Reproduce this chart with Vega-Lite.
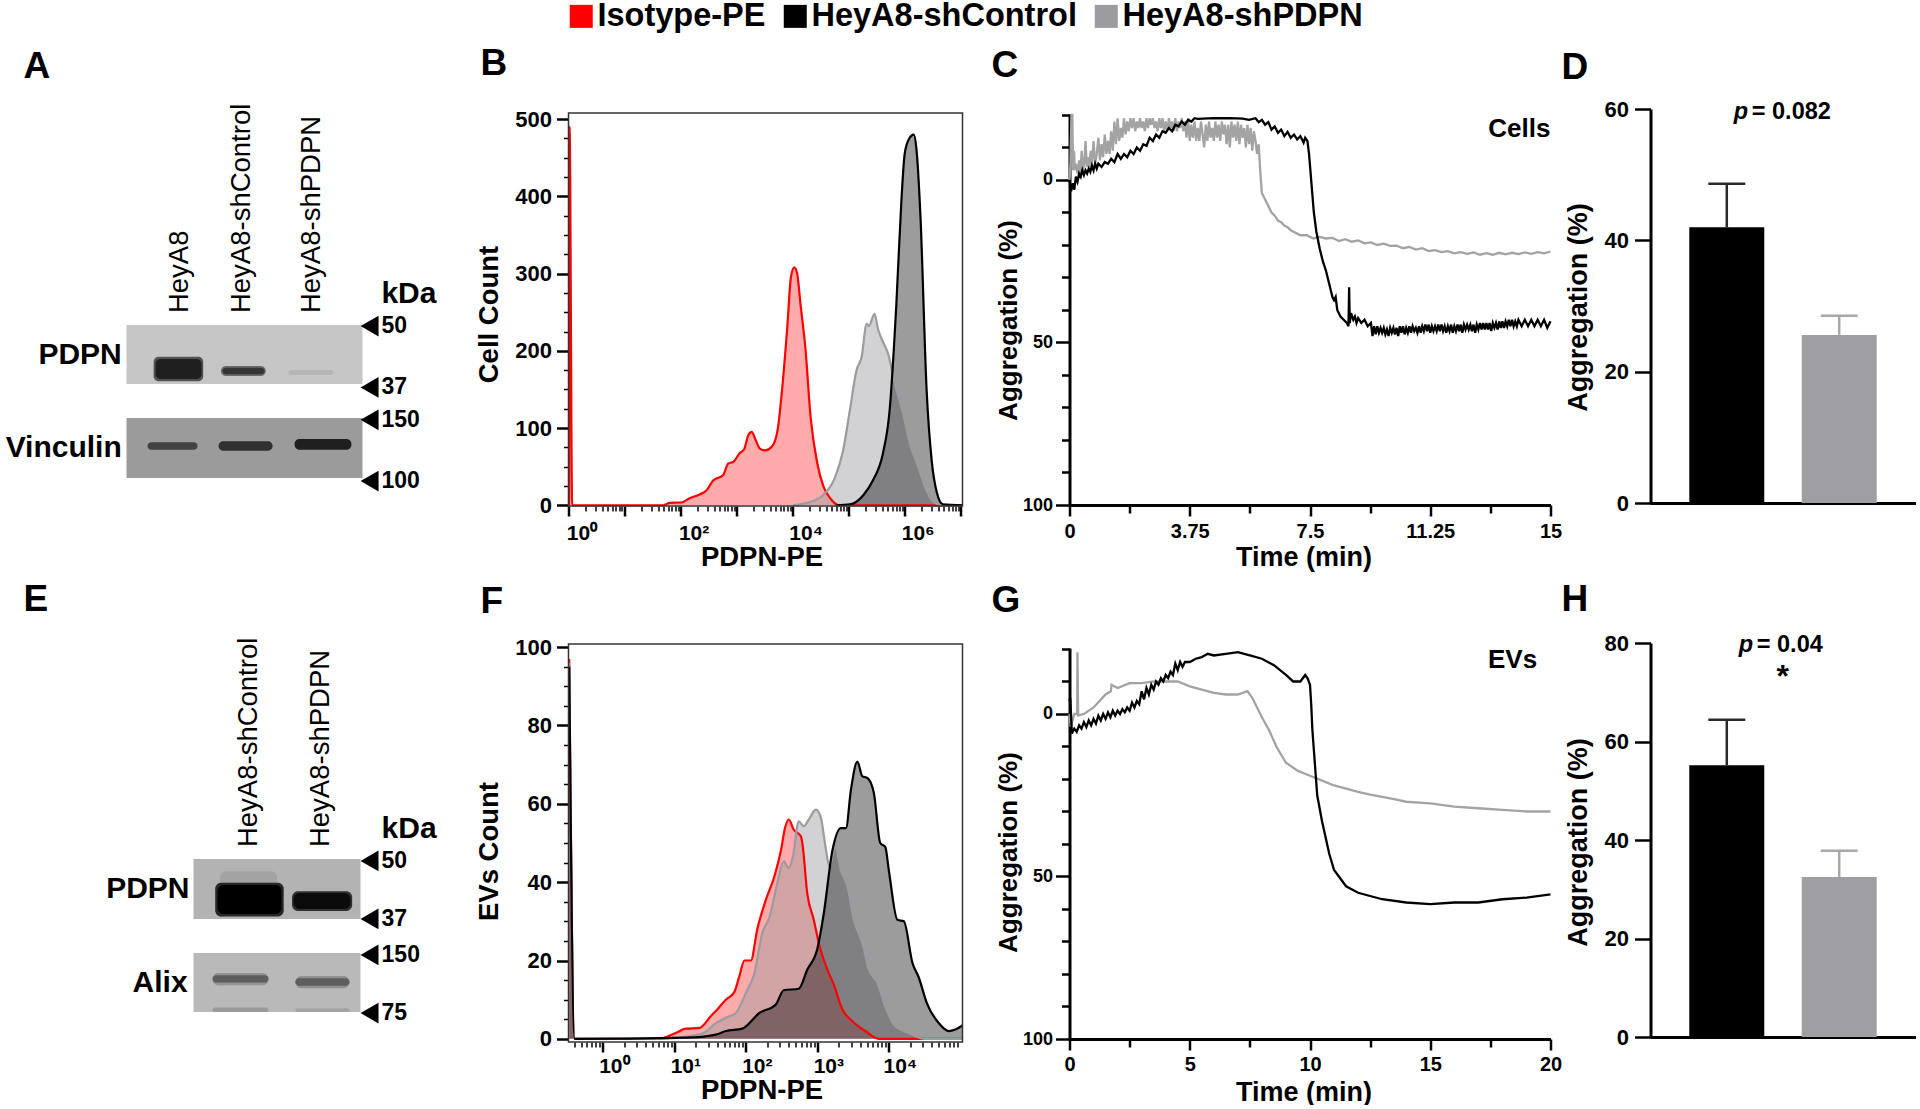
{
"$schema":"https://vega.github.io/schema/vega-lite/v6.json",
"background":"white",
"padding":{"left":5.5,"top":0,"right":0,"bottom":0},
"bounds":"flush","columns":4,"spacing":{"row":135,"column":0},
"config":{"font":"Liberation Sans","view":{"stroke":null},
"axis":{"grid":false,"domainColor":"#000","tickColor":"#000","labelColor":"#000","titleColor":"#000","labelFontWeight":"bold","titleFontWeight":"bold","labelFont":"Liberation Sans","titleFont":"Liberation Sans","labelOverlap":false,"labelBound":false,"labelFlush":false},
"title":{"font":"Liberation Sans","fontWeight":"bold","fontSize":37,"anchor":"start","frame":"group","baseline":"alphabetic","color":"#000"}},
"datasets":{
"memA":[{"x1":0,"x2":100,"y1":0,"y2":38.6,"ink":0.2},{"x1":0,"x2":100,"y1":60.8,"y2":100,"ink":0.36}],
"blotA":[
{"x1":11.5,"x2":32.5,"y1":20.8,"y2":36.8,"ink":0.65},{"x1":12.3,"x2":31.8,"y1":22.2,"y2":35.3,"ink":0.88},
{"x1":40,"x2":59,"y1":26.8,"y2":33.4,"ink":0.55},{"x1":40.7,"x2":58.5,"y1":28,"y2":32.2,"ink":0.78},
{"x1":68.6,"x2":87.7,"y1":29.4,"y2":32.7,"ink":0.26},
{"x1":8.9,"x2":30.1,"y1":76.6,"y2":81.5,"ink":0.72},{"x1":39,"x2":61.9,"y1":76,"y2":82.2,"ink":0.8},{"x1":71.2,"x2":95.3,"y1":74.5,"y2":81.5,"ink":0.88}],
"laneA":[{"label":"HeyA8","x":22.5,"y":-7.8},{"label":"HeyA8-shControl","x":49,"y":-7.8},{"label":"HeyA8-shPDPN","x":78.5,"y":-7.8}],
"rowA":[{"label":"PDPN","x":-2,"y":19.6},{"label":"Vinculin","x":-2,"y":80.5}],
"kdaA":[{"label":"kDa","x":108,"y":-14.4}],
"markA":[{"label":"50","x":108,"tx":103,"y":0.7},{"label":"37","x":108,"tx":103,"y":40.8},{"label":"150","x":108,"tx":103,"y":62},{"label":"100","x":108,"tx":103,"y":102}],
"memE":[{"x1":0,"x2":100,"y1":0,"y2":39.2,"ink":0.27},{"x1":0,"x2":100,"y1":61.4,"y2":100,"ink":0.25}],
"blotE":[
{"x1":16,"x2":50,"y1":8,"y2":20,"ink":0.33},{"x1":13,"x2":54,"y1":15.5,"y2":37.5,"ink":0.85},{"x1":14.4,"x2":52.7,"y1":17,"y2":36,"ink":1},
{"x1":59,"x2":95,"y1":21,"y2":34,"ink":0.8},{"x1":59.9,"x2":94,"y1":22.2,"y2":32.7,"ink":0.97},
{"x1":11.4,"x2":44.9,"y1":74.5,"y2":82.5,"ink":0.4},{"x1":11.4,"x2":44.9,"y1":76,"y2":80.8,"ink":0.6},
{"x1":61,"x2":93.4,"y1":76.5,"y2":84.5,"ink":0.4},{"x1":61,"x2":93.4,"y1":78,"y2":82.8,"ink":0.6},
{"x1":11.4,"x2":44.9,"y1":97,"y2":100,"ink":0.36},{"x1":61,"x2":93.4,"y1":97.5,"y2":100,"ink":0.33}],
"laneE":[{"label":"HeyA8-shControl","x":33,"y":-7.8},{"label":"HeyA8-shPDPN","x":76.6,"y":-7.8}],
"rowE":[{"label":"PDPN","x":-2.4,"y":19.6},{"label":"Alix","x":-3.5,"y":81}],
"kdaE":[{"label":"kDa","x":112.6,"y":-13.7}],
"markE":[{"label":"50","x":112.6,"tx":105.4,"y":1.3},{"label":"37","x":112.6,"tx":105.4,"y":39.2},{"label":"150","x":112.6,"tx":105.4,"y":62.7},{"label":"75","x":112.6,"tx":105.4,"y":100.7}],
"histB":[
{"s":"Isotype-PE","d":0.01,"n":0},{"s":"Isotype-PE","d":0.02,"n":490},{"s":"Isotype-PE","d":0.065,"n":0},{"s":"Isotype-PE","d":1.39,"n":0},{"s":"Isotype-PE","d":1.69,"n":0},{"s":"Isotype-PE","d":1.81,"n":3},{"s":"Isotype-PE","d":2.01,"n":3.5},{"s":"Isotype-PE","d":2.16,"n":9},{"s":"Isotype-PE","d":2.34,"n":14},{"s":"Isotype-PE","d":2.46,"n":19},{"s":"Isotype-PE","d":2.58,"n":32},{"s":"Isotype-PE","d":2.76,"n":39},{"s":"Isotype-PE","d":2.85,"n":54},{"s":"Isotype-PE","d":2.94,"n":56},{"s":"Isotype-PE","d":3.06,"n":68},{"s":"Isotype-PE","d":3.13,"n":72},{"s":"Isotype-PE","d":3.21,"n":91},{"s":"Isotype-PE","d":3.27,"n":95},{"s":"Isotype-PE","d":3.33,"n":86},{"s":"Isotype-PE","d":3.42,"n":73},{"s":"Isotype-PE","d":3.51,"n":71},{"s":"Isotype-PE","d":3.63,"n":76},{"s":"Isotype-PE","d":3.73,"n":97},{"s":"Isotype-PE","d":3.81,"n":149},{"s":"Isotype-PE","d":3.9,"n":227},{"s":"Isotype-PE","d":3.97,"n":296},{"s":"Isotype-PE","d":4.03,"n":308},{"s":"Isotype-PE","d":4.08,"n":300},{"s":"Isotype-PE","d":4.14,"n":260},{"s":"Isotype-PE","d":4.23,"n":201},{"s":"Isotype-PE","d":4.32,"n":114},{"s":"Isotype-PE","d":4.44,"n":54},{"s":"Isotype-PE","d":4.55,"n":24},{"s":"Isotype-PE","d":4.67,"n":9},{"s":"Isotype-PE","d":4.82,"n":0},{"s":"Isotype-PE","d":7.03,"n":0},
{"s":"HeyA8-shPDPN","d":4,"n":0},{"s":"HeyA8-shPDPN","d":4.3,"n":4},{"s":"HeyA8-shPDPN","d":4.54,"n":13},{"s":"HeyA8-shPDPN","d":4.75,"n":35},{"s":"HeyA8-shPDPN","d":4.9,"n":71},{"s":"HeyA8-shPDPN","d":5.02,"n":123},{"s":"HeyA8-shPDPN","d":5.14,"n":175},{"s":"HeyA8-shPDPN","d":5.23,"n":192},{"s":"HeyA8-shPDPN","d":5.32,"n":235},{"s":"HeyA8-shPDPN","d":5.36,"n":232},{"s":"HeyA8-shPDPN","d":5.46,"n":248},{"s":"HeyA8-shPDPN","d":5.52,"n":229},{"s":"HeyA8-shPDPN","d":5.64,"n":207},{"s":"HeyA8-shPDPN","d":5.7,"n":197},{"s":"HeyA8-shPDPN","d":5.82,"n":158},{"s":"HeyA8-shPDPN","d":5.97,"n":119},{"s":"HeyA8-shPDPN","d":6.09,"n":80},{"s":"HeyA8-shPDPN","d":6.24,"n":50},{"s":"HeyA8-shPDPN","d":6.36,"n":24},{"s":"HeyA8-shPDPN","d":6.51,"n":4},{"s":"HeyA8-shPDPN","d":6.68,"n":0},
{"s":"HeyA8-shControl","d":4.78,"n":0},{"s":"HeyA8-shControl","d":5.02,"n":1},{"s":"HeyA8-shControl","d":5.26,"n":13},{"s":"HeyA8-shControl","d":5.43,"n":32},{"s":"HeyA8-shControl","d":5.61,"n":67},{"s":"HeyA8-shControl","d":5.73,"n":123},{"s":"HeyA8-shControl","d":5.85,"n":261},{"s":"HeyA8-shControl","d":5.94,"n":395},{"s":"HeyA8-shControl","d":6,"n":456},{"s":"HeyA8-shControl","d":6.08,"n":475},{"s":"HeyA8-shControl","d":6.16,"n":480},{"s":"HeyA8-shControl","d":6.21,"n":460},{"s":"HeyA8-shControl","d":6.28,"n":374},{"s":"HeyA8-shControl","d":6.39,"n":149},{"s":"HeyA8-shControl","d":6.48,"n":58},{"s":"HeyA8-shControl","d":6.57,"n":17},{"s":"HeyA8-shControl","d":6.68,"n":1},{"s":"HeyA8-shControl","d":7.03,"n":0}],
"histF":[
{"s":"Isotype-PE","d":-0.47,"n":97},{"s":"Isotype-PE","d":-0.395,"n":0},{"s":"Isotype-PE","d":0.42,"n":0},{"s":"Isotype-PE","d":0.79,"n":0},{"s":"Isotype-PE","d":1.02,"n":1.5},{"s":"Isotype-PE","d":1.16,"n":2.6},{"s":"Isotype-PE","d":1.35,"n":2.8},{"s":"Isotype-PE","d":1.51,"n":5.8},{"s":"Isotype-PE","d":1.6,"n":7.5},{"s":"Isotype-PE","d":1.72,"n":10},{"s":"Isotype-PE","d":1.84,"n":12},{"s":"Isotype-PE","d":1.91,"n":16},{"s":"Isotype-PE","d":1.98,"n":20},{"s":"Isotype-PE","d":2.07,"n":20},{"s":"Isotype-PE","d":2.16,"n":28},{"s":"Isotype-PE","d":2.28,"n":35.5},{"s":"Isotype-PE","d":2.4,"n":41.5},{"s":"Isotype-PE","d":2.49,"n":48},{"s":"Isotype-PE","d":2.55,"n":54},{"s":"Isotype-PE","d":2.6,"n":56},{"s":"Isotype-PE","d":2.67,"n":53.4},{"s":"Isotype-PE","d":2.77,"n":51.7},{"s":"Isotype-PE","d":2.79,"n":50},{"s":"Isotype-PE","d":2.86,"n":37},{"s":"Isotype-PE","d":2.95,"n":30.4},{"s":"Isotype-PE","d":3.02,"n":24.5},{"s":"Isotype-PE","d":3.14,"n":17.7},{"s":"Isotype-PE","d":3.23,"n":13.9},{"s":"Isotype-PE","d":3.35,"n":7.5},{"s":"Isotype-PE","d":3.49,"n":4.5},{"s":"Isotype-PE","d":3.67,"n":2},{"s":"Isotype-PE","d":3.86,"n":0},{"s":"Isotype-PE","d":5.03,"n":0},
{"s":"HeyA8-shPDPN","d":-0.47,"n":96},{"s":"HeyA8-shPDPN","d":-0.395,"n":0},{"s":"HeyA8-shPDPN","d":0.79,"n":0},{"s":"HeyA8-shPDPN","d":1.21,"n":0.7},{"s":"HeyA8-shPDPN","d":1.4,"n":1.4},{"s":"HeyA8-shPDPN","d":1.58,"n":4},{"s":"HeyA8-shPDPN","d":1.72,"n":5.4},{"s":"HeyA8-shPDPN","d":1.86,"n":6.6},{"s":"HeyA8-shPDPN","d":2,"n":11.7},{"s":"HeyA8-shPDPN","d":2.12,"n":16.8},{"s":"HeyA8-shPDPN","d":2.23,"n":27},{"s":"HeyA8-shPDPN","d":2.33,"n":31},{"s":"HeyA8-shPDPN","d":2.44,"n":39.8},{"s":"HeyA8-shPDPN","d":2.53,"n":45.3},{"s":"HeyA8-shPDPN","d":2.6,"n":43.6},{"s":"HeyA8-shPDPN","d":2.66,"n":46.6},{"s":"HeyA8-shPDPN","d":2.74,"n":55.5},{"s":"HeyA8-shPDPN","d":2.81,"n":54.3},{"s":"HeyA8-shPDPN","d":2.88,"n":56},{"s":"HeyA8-shPDPN","d":2.98,"n":58.5},{"s":"HeyA8-shPDPN","d":3.05,"n":56.4},{"s":"HeyA8-shPDPN","d":3.12,"n":48.3},{"s":"HeyA8-shPDPN","d":3.17,"n":44},{"s":"HeyA8-shPDPN","d":3.25,"n":49},{"s":"HeyA8-shPDPN","d":3.33,"n":43},{"s":"HeyA8-shPDPN","d":3.42,"n":39},{"s":"HeyA8-shPDPN","d":3.51,"n":30.4},{"s":"HeyA8-shPDPN","d":3.63,"n":24.5},{"s":"HeyA8-shPDPN","d":3.72,"n":17.7},{"s":"HeyA8-shPDPN","d":3.84,"n":14.3},{"s":"HeyA8-shPDPN","d":3.95,"n":8.3},{"s":"HeyA8-shPDPN","d":4.09,"n":3.2},{"s":"HeyA8-shPDPN","d":4.28,"n":1.5},{"s":"HeyA8-shPDPN","d":4.51,"n":0},{"s":"HeyA8-shPDPN","d":5.03,"n":0},
{"s":"HeyA8-shControl","d":-0.47,"n":95},{"s":"HeyA8-shControl","d":-0.395,"n":0},{"s":"HeyA8-shControl","d":1.16,"n":0.3},{"s":"HeyA8-shControl","d":1.58,"n":1.1},{"s":"HeyA8-shControl","d":1.72,"n":2},{"s":"HeyA8-shControl","d":1.95,"n":2.6},{"s":"HeyA8-shControl","d":2.19,"n":6.6},{"s":"HeyA8-shControl","d":2.42,"n":8.8},{"s":"HeyA8-shControl","d":2.53,"n":12.4},{"s":"HeyA8-shControl","d":2.74,"n":12.8},{"s":"HeyA8-shControl","d":2.86,"n":17.7},{"s":"HeyA8-shControl","d":3,"n":23},{"s":"HeyA8-shControl","d":3.09,"n":32},{"s":"HeyA8-shControl","d":3.21,"n":48},{"s":"HeyA8-shControl","d":3.33,"n":53.8},{"s":"HeyA8-shControl","d":3.4,"n":53.8},{"s":"HeyA8-shControl","d":3.47,"n":63.6},{"s":"HeyA8-shControl","d":3.56,"n":70.8},{"s":"HeyA8-shControl","d":3.63,"n":67},{"s":"HeyA8-shControl","d":3.7,"n":66.6},{"s":"HeyA8-shControl","d":3.79,"n":62.8},{"s":"HeyA8-shControl","d":3.88,"n":50},{"s":"HeyA8-shControl","d":3.95,"n":49},{"s":"HeyA8-shControl","d":4,"n":43},{"s":"HeyA8-shControl","d":4.12,"n":30.4},{"s":"HeyA8-shControl","d":4.21,"n":30},{"s":"HeyA8-shControl","d":4.33,"n":19.4},{"s":"HeyA8-shControl","d":4.42,"n":15.6},{"s":"HeyA8-shControl","d":4.53,"n":9.2},{"s":"HeyA8-shControl","d":4.7,"n":4},{"s":"HeyA8-shControl","d":4.84,"n":2},{"s":"HeyA8-shControl","d":4.93,"n":2.4},{"s":"HeyA8-shControl","d":5.03,"n":3.4}],
"frameB":[{"x1":0,"x2":7.03,"y1":-1,"y2":508}],
"frameF":[{"x1":-0.48,"x2":5.03,"y1":-0.8,"y2":100.8}],
"traceC":[
{"s":"g","t":0,"a":0},{"s":"g","t":0.03,"a":-5},{"s":"g","t":0.06,"a":-20},{"s":"g","t":0.09,"a":-20},{"s":"g","t":0.11,"a":-3},{"s":"g","t":0.14,"a":-9},{"s":"g","t":0.17,"a":-3},{"s":"g","t":0.2,"a":-5},{"s":"g","t":0.25,"a":-2},{"s":"g","t":0.3,"a":-6},{"s":"g","t":0.34,"a":-2},{"s":"g","t":0.38,"a":-9},{"s":"g","t":0.42,"a":-3},{"s":"g","t":0.46,"a":-5},{"s":"g","t":0.5,"a":-12},{"s":"g","t":0.54,"a":-4},{"s":"g","t":0.58,"a":-7},{"s":"g","t":0.62,"a":-4},{"s":"g","t":0.66,"a":-9},{"s":"g","t":0.7,"a":-5},{"s":"g","t":0.75,"a":-12},{"s":"g","t":0.8,"a":-5},{"s":"g","t":0.85,"a":-8},{"s":"g","t":0.9,"a":-13},{"s":"g","t":0.95,"a":-6},{"s":"g","t":1,"a":-11},{"s":"g","t":1.05,"a":-7},{"s":"g","t":1.1,"a":-14},{"s":"g","t":1.15,"a":-8},{"s":"g","t":1.2,"a":-12},{"s":"g","t":1.25,"a":-8},{"s":"g","t":1.3,"a":-15},{"s":"g","t":1.35,"a":-9},{"s":"g","t":1.4,"a":-18},{"s":"g","t":1.45,"a":-11},{"s":"g","t":1.5,"a":-19},{"s":"g","t":1.55,"a":-12},{"s":"g","t":1.6,"a":-16},{"s":"g","t":1.65,"a":-13},{"s":"g","t":1.7,"a":-19},{"s":"g","t":1.75,"a":-14},{"s":"g","t":1.8,"a":-18},{"s":"g","t":1.85,"a":-15},{"s":"g","t":1.9,"a":-19},{"s":"g","t":1.95,"a":-16},{"s":"g","t":2,"a":-19},{"s":"g","t":2.05,"a":-15},{"s":"g","t":2.1,"a":-18},{"s":"g","t":2.15,"a":-16},{"s":"g","t":2.2,"a":-19},{"s":"g","t":2.25,"a":-16},{"s":"g","t":2.3,"a":-18},{"s":"g","t":2.35,"a":-15},{"s":"g","t":2.4,"a":-19},{"s":"g","t":2.45,"a":-16},{"s":"g","t":2.5,"a":-19},{"s":"g","t":2.55,"a":-17},{"s":"g","t":2.6,"a":-19},{"s":"g","t":2.65,"a":-16},{"s":"g","t":2.7,"a":-18},{"s":"g","t":2.75,"a":-15},{"s":"g","t":2.8,"a":-19},{"s":"g","t":2.85,"a":-16},{"s":"g","t":2.9,"a":-19},{"s":"g","t":2.95,"a":-15},{"s":"g","t":3,"a":-18},{"s":"g","t":3.05,"a":-15},{"s":"g","t":3.1,"a":-19},{"s":"g","t":3.15,"a":-16},{"s":"g","t":3.2,"a":-18},{"s":"g","t":3.25,"a":-15},{"s":"g","t":3.3,"a":-19},{"s":"g","t":3.35,"a":-15},{"s":"g","t":3.4,"a":-18},{"s":"g","t":3.45,"a":-16},{"s":"g","t":3.5,"a":-19},{"s":"g","t":3.55,"a":-15},{"s":"g","t":3.6,"a":-18},{"s":"g","t":3.65,"a":-13},{"s":"g","t":3.7,"a":-19},{"s":"g","t":3.75,"a":-12},{"s":"g","t":3.8,"a":-17},{"s":"g","t":3.85,"a":-13},{"s":"g","t":3.9,"a":-18},{"s":"g","t":3.95,"a":-12},{"s":"g","t":4,"a":-16},{"s":"g","t":4.05,"a":-12},{"s":"g","t":4.1,"a":-18},{"s":"g","t":4.15,"a":-14},{"s":"g","t":4.2,"a":-10},{"s":"g","t":4.25,"a":-17},{"s":"g","t":4.3,"a":-12},{"s":"g","t":4.35,"a":-18},{"s":"g","t":4.4,"a":-13},{"s":"g","t":4.45,"a":-16},{"s":"g","t":4.5,"a":-12},{"s":"g","t":4.55,"a":-18},{"s":"g","t":4.6,"a":-13},{"s":"g","t":4.65,"a":-17},{"s":"g","t":4.7,"a":-12},{"s":"g","t":4.75,"a":-18},{"s":"g","t":4.8,"a":-14},{"s":"g","t":4.85,"a":-17},{"s":"g","t":4.9,"a":-11},{"s":"g","t":4.95,"a":-17},{"s":"g","t":5,"a":-10},{"s":"g","t":5.05,"a":-18},{"s":"g","t":5.1,"a":-13},{"s":"g","t":5.15,"a":-17},{"s":"g","t":5.2,"a":-12},{"s":"g","t":5.25,"a":-18},{"s":"g","t":5.3,"a":-11},{"s":"g","t":5.35,"a":-17},{"s":"g","t":5.4,"a":-13},{"s":"g","t":5.45,"a":-16},{"s":"g","t":5.5,"a":-10},{"s":"g","t":5.55,"a":-17},{"s":"g","t":5.6,"a":-11},{"s":"g","t":5.65,"a":-16},{"s":"g","t":5.7,"a":-9},{"s":"g","t":5.75,"a":-15},{"s":"g","t":5.8,"a":-12},{"s":"g","t":5.85,"a":-8},{"s":"g","t":5.9,"a":-11},{"s":"g","t":5.93,"a":-6},{"s":"g","t":5.96,"a":-1},{"s":"g","t":6,"a":4},{"s":"g","t":6.1,"a":6},{"s":"g","t":6.2,"a":8},{"s":"g","t":6.3,"a":10},{"s":"g","t":6.4,"a":11},{"s":"g","t":6.5,"a":12.5},{"s":"g","t":6.6,"a":13},{"s":"g","t":6.7,"a":14},{"s":"g","t":6.8,"a":14.5},{"s":"g","t":6.9,"a":15.5},{"s":"g","t":7,"a":16},{"s":"g","t":7.1,"a":16.5},{"s":"g","t":7.2,"a":17},{"s":"g","t":7.4,"a":17},{"s":"g","t":7.6,"a":18},{"s":"g","t":7.8,"a":17.5},{"s":"g","t":8,"a":18},{"s":"g","t":8.2,"a":17.8},{"s":"g","t":8.4,"a":18.8},{"s":"g","t":8.6,"a":18.2},{"s":"g","t":8.8,"a":19},{"s":"g","t":9,"a":18.6},{"s":"g","t":9.2,"a":19.5},{"s":"g","t":9.4,"a":19.2},{"s":"g","t":9.6,"a":20},{"s":"g","t":9.8,"a":19.6},{"s":"g","t":10,"a":20.3},{"s":"g","t":10.2,"a":20.2},{"s":"g","t":10.4,"a":21},{"s":"g","t":10.6,"a":20.6},{"s":"g","t":10.8,"a":21.4},{"s":"g","t":11,"a":21},{"s":"g","t":11.2,"a":21.9},{"s":"g","t":11.4,"a":21.6},{"s":"g","t":11.6,"a":22.2},{"s":"g","t":11.8,"a":21.9},{"s":"g","t":12,"a":22.6},{"s":"g","t":12.2,"a":22.2},{"s":"g","t":12.4,"a":22.7},{"s":"g","t":12.6,"a":22.3},{"s":"g","t":12.8,"a":23},{"s":"g","t":13,"a":22.5},{"s":"g","t":13.2,"a":23},{"s":"g","t":13.4,"a":22.4},{"s":"g","t":13.6,"a":22.9},{"s":"g","t":13.8,"a":22.4},{"s":"g","t":14,"a":22.8},{"s":"g","t":14.2,"a":22.3},{"s":"g","t":14.4,"a":22.7},{"s":"g","t":14.6,"a":22.2},{"s":"g","t":14.8,"a":22.6},{"s":"g","t":15,"a":22},
{"s":"k","t":0,"a":0},{"s":"k","t":0.05,"a":3.5},{"s":"k","t":0.1,"a":1},{"s":"k","t":0.15,"a":3},{"s":"k","t":0.2,"a":-1},{"s":"k","t":0.25,"a":0.5},{"s":"k","t":0.3,"a":-2},{"s":"k","t":0.35,"a":-1},{"s":"k","t":0.4,"a":-3},{"s":"k","t":0.45,"a":-1.5},{"s":"k","t":0.5,"a":-3},{"s":"k","t":0.55,"a":-2},{"s":"k","t":0.6,"a":-3.5},{"s":"k","t":0.65,"a":-2.5},{"s":"k","t":0.7,"a":-4.5},{"s":"k","t":0.75,"a":-3},{"s":"k","t":0.8,"a":-5},{"s":"k","t":0.85,"a":-3.5},{"s":"k","t":0.9,"a":-5},{"s":"k","t":1,"a":-4},{"s":"k","t":1.1,"a":-5.5},{"s":"k","t":1.2,"a":-5},{"s":"k","t":1.3,"a":-6.5},{"s":"k","t":1.4,"a":-5.5},{"s":"k","t":1.5,"a":-8},{"s":"k","t":1.6,"a":-6.5},{"s":"k","t":1.7,"a":-8},{"s":"k","t":1.8,"a":-7},{"s":"k","t":1.9,"a":-9},{"s":"k","t":2,"a":-8},{"s":"k","t":2.1,"a":-10},{"s":"k","t":2.2,"a":-9},{"s":"k","t":2.3,"a":-11},{"s":"k","t":2.4,"a":-10.5},{"s":"k","t":2.5,"a":-13},{"s":"k","t":2.6,"a":-12},{"s":"k","t":2.7,"a":-14},{"s":"k","t":2.8,"a":-13},{"s":"k","t":2.9,"a":-15},{"s":"k","t":3,"a":-14.5},{"s":"k","t":3.1,"a":-16},{"s":"k","t":3.2,"a":-15},{"s":"k","t":3.3,"a":-17},{"s":"k","t":3.4,"a":-16.5},{"s":"k","t":3.5,"a":-18},{"s":"k","t":3.6,"a":-17},{"s":"k","t":3.7,"a":-18.5},{"s":"k","t":3.8,"a":-18},{"s":"k","t":3.9,"a":-19},{"s":"k","t":4,"a":-18.8},{"s":"k","t":4.5,"a":-19},{"s":"k","t":5,"a":-19},{"s":"k","t":5.4,"a":-18.9},{"s":"k","t":5.6,"a":-18.5},{"s":"k","t":5.8,"a":-19},{"s":"k","t":5.9,"a":-17.8},{"s":"k","t":6,"a":-18.5},{"s":"k","t":6.1,"a":-17},{"s":"k","t":6.2,"a":-17.8},{"s":"k","t":6.3,"a":-15.5},{"s":"k","t":6.4,"a":-16.5},{"s":"k","t":6.5,"a":-14.5},{"s":"k","t":6.6,"a":-15.5},{"s":"k","t":6.7,"a":-13.5},{"s":"k","t":6.8,"a":-14.8},{"s":"k","t":6.9,"a":-13},{"s":"k","t":7,"a":-14},{"s":"k","t":7.1,"a":-12.5},{"s":"k","t":7.2,"a":-13.5},{"s":"k","t":7.3,"a":-11.5},{"s":"k","t":7.35,"a":-13},{"s":"k","t":7.42,"a":-12},{"s":"k","t":7.47,"a":-8},{"s":"k","t":7.52,"a":-2},{"s":"k","t":7.57,"a":4},{"s":"k","t":7.62,"a":10},{"s":"k","t":7.7,"a":16},{"s":"k","t":7.8,"a":21},{"s":"k","t":7.9,"a":25},{"s":"k","t":8,"a":28},{"s":"k","t":8.1,"a":32},{"s":"k","t":8.2,"a":36},{"s":"k","t":8.25,"a":37},{"s":"k","t":8.3,"a":36},{"s":"k","t":8.35,"a":40},{"s":"k","t":8.45,"a":42},{"s":"k","t":8.55,"a":43},{"s":"k","t":8.65,"a":44},{"s":"k","t":8.7,"a":45},{"s":"k","t":8.72,"a":33},{"s":"k","t":8.74,"a":44},{"s":"k","t":8.78,"a":41},{"s":"k","t":8.85,"a":43},{"s":"k","t":8.9,"a":42},{"s":"k","t":8.95,"a":44},{"s":"k","t":9,"a":42.5},{"s":"k","t":9.1,"a":44},{"s":"k","t":9.2,"a":43},{"s":"k","t":9.3,"a":45},{"s":"k","t":9.4,"a":44},{"s":"k","t":9.45,"a":48},{"s":"k","t":9.5,"a":45},{"s":"k","t":9.55,"a":47.5},{"s":"k","t":9.6,"a":45},{"s":"k","t":9.65,"a":47},{"s":"k","t":9.7,"a":45.5},{"s":"k","t":9.75,"a":47},{"s":"k","t":9.8,"a":45.5},{"s":"k","t":9.85,"a":47.5},{"s":"k","t":9.9,"a":46},{"s":"k","t":9.95,"a":48},{"s":"k","t":10,"a":45.5},{"s":"k","t":10.05,"a":47},{"s":"k","t":10.1,"a":45.5},{"s":"k","t":10.15,"a":47.5},{"s":"k","t":10.2,"a":45.5},{"s":"k","t":10.25,"a":48},{"s":"k","t":10.3,"a":45},{"s":"k","t":10.35,"a":47},{"s":"k","t":10.4,"a":45},{"s":"k","t":10.45,"a":47.5},{"s":"k","t":10.5,"a":45.5},{"s":"k","t":10.55,"a":47},{"s":"k","t":10.6,"a":45},{"s":"k","t":10.65,"a":47},{"s":"k","t":10.7,"a":45},{"s":"k","t":10.75,"a":46.5},{"s":"k","t":10.8,"a":45.5},{"s":"k","t":10.85,"a":47},{"s":"k","t":10.9,"a":45},{"s":"k","t":10.95,"a":47},{"s":"k","t":11,"a":45},{"s":"k","t":11.05,"a":46.5},{"s":"k","t":11.1,"a":44.5},{"s":"k","t":11.15,"a":46.5},{"s":"k","t":11.2,"a":44.5},{"s":"k","t":11.25,"a":47},{"s":"k","t":11.3,"a":45},{"s":"k","t":11.35,"a":46.5},{"s":"k","t":11.4,"a":45},{"s":"k","t":11.45,"a":46.5},{"s":"k","t":11.5,"a":44.5},{"s":"k","t":11.55,"a":46.5},{"s":"k","t":11.6,"a":44.5},{"s":"k","t":11.65,"a":46.5},{"s":"k","t":11.7,"a":45},{"s":"k","t":11.75,"a":47},{"s":"k","t":11.8,"a":45},{"s":"k","t":11.85,"a":46.5},{"s":"k","t":11.9,"a":44.5},{"s":"k","t":11.95,"a":47},{"s":"k","t":12,"a":45},{"s":"k","t":12.05,"a":46.5},{"s":"k","t":12.1,"a":44.5},{"s":"k","t":12.15,"a":46.5},{"s":"k","t":12.2,"a":44.5},{"s":"k","t":12.25,"a":47},{"s":"k","t":12.3,"a":44.5},{"s":"k","t":12.35,"a":46},{"s":"k","t":12.4,"a":44.5},{"s":"k","t":12.45,"a":46},{"s":"k","t":12.5,"a":44.5},{"s":"k","t":12.55,"a":46.5},{"s":"k","t":12.6,"a":44.5},{"s":"k","t":12.65,"a":47},{"s":"k","t":12.7,"a":44.5},{"s":"k","t":12.75,"a":46},{"s":"k","t":12.8,"a":44},{"s":"k","t":12.85,"a":46},{"s":"k","t":12.9,"a":44},{"s":"k","t":12.95,"a":46},{"s":"k","t":13,"a":44},{"s":"k","t":13.05,"a":46},{"s":"k","t":13.1,"a":44},{"s":"k","t":13.15,"a":46.5},{"s":"k","t":13.2,"a":44},{"s":"k","t":13.25,"a":45.5},{"s":"k","t":13.3,"a":44},{"s":"k","t":13.35,"a":46},{"s":"k","t":13.4,"a":43.5},{"s":"k","t":13.45,"a":45.5},{"s":"k","t":13.5,"a":43.5},{"s":"k","t":13.55,"a":45.5},{"s":"k","t":13.6,"a":43.5},{"s":"k","t":13.65,"a":45},{"s":"k","t":13.7,"a":43},{"s":"k","t":13.75,"a":45},{"s":"k","t":13.8,"a":43},{"s":"k","t":13.85,"a":45},{"s":"k","t":13.9,"a":43.5},{"s":"k","t":13.95,"a":45},{"s":"k","t":14,"a":43},{"s":"k","t":14.1,"a":45},{"s":"k","t":14.2,"a":43},{"s":"k","t":14.3,"a":45},{"s":"k","t":14.4,"a":43},{"s":"k","t":14.5,"a":45},{"s":"k","t":14.6,"a":43},{"s":"k","t":14.7,"a":45},{"s":"k","t":14.8,"a":43},{"s":"k","t":14.9,"a":45.5},{"s":"k","t":15,"a":43.5}],
"traceG":[
{"s":"g","t":0,"a":0},{"s":"g","t":0.05,"a":4},{"s":"g","t":0.2,"a":0},{"s":"g","t":0.32,"a":0},{"s":"g","t":0.33,"a":-19},{"s":"g","t":0.36,"a":0.5},{"s":"g","t":0.6,"a":0},{"s":"g","t":1,"a":-2},{"s":"g","t":1.5,"a":-6},{"s":"g","t":1.72,"a":-7},{"s":"g","t":1.75,"a":-9},{"s":"g","t":2,"a":-8},{"s":"g","t":2.5,"a":-9.5},{"s":"g","t":3,"a":-9.5},{"s":"g","t":3.5,"a":-10},{"s":"g","t":4,"a":-10},{"s":"g","t":4.5,"a":-10},{"s":"g","t":5,"a":-8.5},{"s":"g","t":5.5,"a":-7.5},{"s":"g","t":6,"a":-6.5},{"s":"g","t":6.5,"a":-6},{"s":"g","t":7,"a":-6},{"s":"g","t":7.4,"a":-7},{"s":"g","t":7.6,"a":-5},{"s":"g","t":8,"a":1},{"s":"g","t":8.3,"a":5},{"s":"g","t":8.6,"a":10},{"s":"g","t":9,"a":15},{"s":"g","t":9.5,"a":17.5},{"s":"g","t":10,"a":19},{"s":"g","t":10.5,"a":20.5},{"s":"g","t":11,"a":22},{"s":"g","t":11.5,"a":23},{"s":"g","t":12,"a":24},{"s":"g","t":12.5,"a":24.8},{"s":"g","t":13,"a":25.5},{"s":"g","t":13.5,"a":26.2},{"s":"g","t":14,"a":27},{"s":"g","t":15,"a":27.5},{"s":"g","t":16,"a":28.5},{"s":"g","t":17,"a":29},{"s":"g","t":18,"a":29.5},{"s":"g","t":19,"a":30},{"s":"g","t":20,"a":30},
{"s":"k","t":0,"a":-4},{"s":"k","t":0.03,"a":-5},{"s":"k","t":0.1,"a":6},{"s":"k","t":0.2,"a":4.5},{"s":"k","t":0.3,"a":5.5},{"s":"k","t":0.4,"a":3.5},{"s":"k","t":0.5,"a":4.5},{"s":"k","t":0.6,"a":2.5},{"s":"k","t":0.7,"a":4},{"s":"k","t":0.8,"a":2},{"s":"k","t":0.9,"a":3.5},{"s":"k","t":1,"a":1.5},{"s":"k","t":1.1,"a":3},{"s":"k","t":1.2,"a":0.5},{"s":"k","t":1.3,"a":2},{"s":"k","t":1.4,"a":0},{"s":"k","t":1.5,"a":1.5},{"s":"k","t":1.6,"a":-0.5},{"s":"k","t":1.7,"a":1},{"s":"k","t":1.8,"a":-1},{"s":"k","t":1.9,"a":0.5},{"s":"k","t":2,"a":-1},{"s":"k","t":2.1,"a":0},{"s":"k","t":2.2,"a":-1.5},{"s":"k","t":2.3,"a":-0.5},{"s":"k","t":2.4,"a":-2},{"s":"k","t":2.5,"a":-1},{"s":"k","t":2.6,"a":-3.5},{"s":"k","t":2.7,"a":-2},{"s":"k","t":2.8,"a":-4},{"s":"k","t":2.9,"a":-3},{"s":"k","t":3,"a":-7},{"s":"k","t":3.1,"a":-4.5},{"s":"k","t":3.2,"a":-8},{"s":"k","t":3.3,"a":-6},{"s":"k","t":3.4,"a":-9},{"s":"k","t":3.5,"a":-7.5},{"s":"k","t":3.6,"a":-10},{"s":"k","t":3.7,"a":-9},{"s":"k","t":3.8,"a":-11},{"s":"k","t":3.9,"a":-10},{"s":"k","t":4,"a":-12},{"s":"k","t":4.1,"a":-11},{"s":"k","t":4.2,"a":-13},{"s":"k","t":4.3,"a":-12},{"s":"k","t":4.4,"a":-15.5},{"s":"k","t":4.5,"a":-13.5},{"s":"k","t":4.6,"a":-16},{"s":"k","t":4.7,"a":-14.5},{"s":"k","t":4.8,"a":-16},{"s":"k","t":5,"a":-16},{"s":"k","t":5.25,"a":-17},{"s":"k","t":5.5,"a":-17.5},{"s":"k","t":5.75,"a":-18.5},{"s":"k","t":6,"a":-18},{"s":"k","t":6.5,"a":-18.5},{"s":"k","t":7,"a":-19},{"s":"k","t":7.5,"a":-18},{"s":"k","t":8,"a":-17},{"s":"k","t":8.5,"a":-15},{"s":"k","t":9,"a":-12},{"s":"k","t":9.3,"a":-10},{"s":"k","t":9.6,"a":-10},{"s":"k","t":9.8,"a":-12},{"s":"k","t":9.9,"a":-11},{"s":"k","t":10,"a":-9},{"s":"k","t":10.05,"a":-3},{"s":"k","t":10.1,"a":5},{"s":"k","t":10.2,"a":15},{"s":"k","t":10.3,"a":25},{"s":"k","t":10.5,"a":33},{"s":"k","t":10.8,"a":43},{"s":"k","t":11,"a":48},{"s":"k","t":11.5,"a":53},{"s":"k","t":12,"a":55},{"s":"k","t":13,"a":57},{"s":"k","t":14,"a":58},{"s":"k","t":15,"a":58.5},{"s":"k","t":16,"a":58},{"s":"k","t":17,"a":58},{"s":"k","t":18,"a":57},{"s":"k","t":19,"a":56.5},{"s":"k","t":20,"a":55.5}],
"barD":[{"c":"HeyA8-shControl","v":42,"u":48.6},{"c":"HeyA8-shPDPN","v":25.6,"u":28.5}],
"barH":[{"c":"HeyA8-shControl","v":55.2,"u":64.4},{"c":"HeyA8-shPDPN","v":32.5,"u":37.8}]
},
"concat":[
{"title":{"text":"A","dx":-103,"offset":31,"dy":13},"width":442,"height":399,"layer":[
{"data":{"name":"memA"},"mark":{"type":"rect"},"encoding":{"x":{"field":"x1","type":"quantitative","scale":{"domain":[0,100],"range":[0,236],"nice":false},"axis":null},"x2":{"field":"x2"},"y":{"field":"y1","type":"quantitative","scale":{"domain":[0,100],"range":[216,369],"nice":false},"axis":null},"y2":{"field":"y2"},"color":{"field":"ink","type":"quantitative","scale":{"domain":[0,1],"range":["#ffffff","#000000"]},"legend":null}}},
{"data":{"name":"blotA"},"mark":{"type":"rect","cornerRadius":5},"encoding":{"x":{"field":"x1","type":"quantitative"},"x2":{"field":"x2"},"y":{"field":"y1","type":"quantitative"},"y2":{"field":"y2"},"color":{"field":"ink","type":"quantitative","legend":null}}},
{"data":{"name":"laneA"},"mark":{"type":"text","angle":270,"align":"left","baseline":"middle","fontSize":27.5},"encoding":{"x":{"field":"x","type":"quantitative"},"y":{"field":"y","type":"quantitative"},"text":{"field":"label"}}},
{"data":{"name":"rowA"},"mark":{"type":"text","align":"right","baseline":"middle","fontSize":30,"fontWeight":"bold"},"encoding":{"x":{"field":"x","type":"quantitative"},"y":{"field":"y","type":"quantitative"},"text":{"field":"label"}}},
{"data":{"name":"kdaA"},"mark":{"type":"text","align":"left","baseline":"alphabetic","fontSize":30,"fontWeight":"bold"},"encoding":{"x":{"field":"x","type":"quantitative"},"y":{"field":"y","type":"quantitative"},"text":{"field":"label"}}},
{"data":{"name":"markA"},"mark":{"type":"point","shape":"triangle-left","filled":true,"size":430,"color":"#000","opacity":1},"encoding":{"x":{"field":"tx","type":"quantitative"},"y":{"field":"y","type":"quantitative"}}},
{"data":{"name":"markA"},"mark":{"type":"text","align":"left","baseline":"middle","fontSize":23,"fontWeight":"bold"},"encoding":{"x":{"field":"x","type":"quantitative"},"y":{"field":"y","type":"quantitative"},"text":{"field":"label"}}}
]},
{"title":{"text":"B","dx":-88,"offset":30,"dy":113},"width":501,"height":399,"data":{"name":"histB"},
"resolve":{"axis":{"x":"independent","y":"independent"}},
"layer":[
{"mark":{"type":"area","interpolate":"monotone"},"encoding":{
"x":{"field":"d","type":"quantitative","scale":{"domain":[0,7.03],"range":[0,394],"nice":false,"zero":false},"axis":{"orient":"bottom","offset":-2,"title":"PDPN-PE","titleFontSize":27.5,"titleX":193,"titleY":51,"titleBaseline":"middle","titleAlign":"center","values":[0,1,2,3,4,5,6,7],"labelExpr":"datum.value==0?'10⁰':datum.value==2?'10²':datum.value==4?'10⁴':datum.value==6?'10⁶':''","labelFontSize":21,"labelOffset":13,"labelPadding":6,"tickSize":10,"tickWidth":2.5,"domain":false}},
"y":{"field":"n","type":"quantitative","scale":{"domain":[-1,508],"range":[397,4],"nice":false,"zero":false},"axis":{"orient":"left","title":"Cell Count","titleFontSize":27.5,"titleAngle":270,"titleX":-79,"titleY":205,"titleBaseline":"middle","titleAlign":"center","values":[0,100,200,300,400,500],"labelFontSize":22,"labelPadding":5,"tickSize":12,"tickWidth":2.5,"domain":false}},
"y2":{"datum":0},
"color":{"field":"s","type":"nominal","scale":{"domain":["Isotype-PE","HeyA8-shControl","HeyA8-shPDPN"],"range":["#ff0000","#000000","#9b9ba0"]},"legend":{"orient":"none","legendX":-3.5,"legendY":-109,"direction":"horizontal","columns":3,"title":null,"symbolType":"square","symbolSize":529,"symbolOpacity":1,"symbolStrokeWidth":0,"labelFontSize":32.5,"labelFontWeight":"bold","labelColor":"#000","labelFont":"Liberation Sans","labelOffset":0,"columnPadding":13,"labelLimit":400}},
"fillOpacity":{"field":"s","type":"nominal","scale":{"domain":["Isotype-PE","HeyA8-shControl","HeyA8-shPDPN"],"range":[0.33,0.45,0.55]},"legend":null}}},
{"mark":{"type":"line","interpolate":"monotone","strokeWidth":2.2},"encoding":{"x":{"field":"d","type":"quantitative","axis":null},"y":{"field":"n","type":"quantitative","axis":null},"color":{"field":"s","type":"nominal","legend":null}}},
{"data":{"name":"frameB"},"mark":{"type":"rect","fill":"transparent","stroke":"#333","strokeWidth":1.5},"encoding":{
"x":{"field":"x1","type":"quantitative","axis":{"orient":"bottom","offset":-2,"title":null,"labels":false,"domain":false,"tickSize":5,"tickWidth":1.5,"values":[0.301,0.477,0.602,0.699,0.778,0.845,0.903,0.954,1.301,1.477,1.602,1.699,1.778,1.845,1.903,1.954,2.301,2.477,2.602,2.699,2.778,2.845,2.903,2.954,3.301,3.477,3.602,3.699,3.778,3.845,3.903,3.954,4.301,4.477,4.602,4.699,4.778,4.845,4.903,4.954,5.301,5.477,5.602,5.699,5.778,5.845,5.903,5.954,6.301,6.477,6.602,6.699,6.778,6.845,6.903,6.954]}},
"x2":{"field":"x2"},
"y":{"field":"y1","type":"quantitative","axis":{"orient":"left","title":null,"labels":false,"domain":false,"tickSize":5,"tickWidth":1.5,"values":[25,50,75,125,150,175,225,250,275,325,350,375,425,450,475]}},
"y2":{"field":"y2"}}}
]},
{"title":{"text":"C","dx":-78,"offset":30,"dy":6},"width":581,"height":399,"data":{"name":"traceC"},
"resolve":{"axis":{"x":"independent","y":"independent"}},
"layer":[
{"mark":{"type":"line","strokeWidth":2.3},"encoding":{
"x":{"field":"t","type":"quantitative","scale":{"domain":[0,15],"range":[0,481],"nice":false,"zero":false},"axis":{"orient":"bottom","offset":-3,"title":"Time (min)","titleFontSize":27,"titleX":234,"titleY":52,"titleBaseline":"middle","titleAlign":"center","values":[0,3.75,7.5,11.25,15],"labelExpr":"''+datum.value","labelFontSize":20,"labelPadding":5,"tickSize":11,"tickWidth":2.5,"domainWidth":3}},
"y":{"field":"a","type":"quantitative","scale":{"domain":[100,-20.3],"range":[396,5],"nice":false,"zero":false},"axis":{"orient":"left","title":"Aggregation (%)","titleFontSize":26,"titleAngle":270,"titleX":-61,"titleY":211,"titleBaseline":"middle","titleAlign":"center","values":[0,50,100],"labelExpr":"''+datum.value","labelFontSize":18,"labelPadding":3,"tickSize":14,"tickWidth":2.5,"domainWidth":3}},
"color":{"field":"s","type":"nominal","scale":{"domain":["g","k"],"range":["#a3a3a6","#000000"]},"legend":null},"detail":{"field":"s"}}},
{"data":{"values":[{"label":"Cells","t":15,"y":-13.2}]},"mark":{"type":"text","align":"right","baseline":"alphabetic","fontSize":26,"fontWeight":"bold"},"encoding":{"text":{"field":"label"},
"x":{"field":"t","type":"quantitative","axis":{"orient":"bottom","offset":-3,"title":null,"labels":false,"domain":false,"tickSize":8,"tickWidth":2.5,"values":[1.875,5.625,9.375,13.125]}},
"y":{"field":"y","type":"quantitative","axis":{"orient":"left","title":null,"labels":false,"domain":false,"tickSize":8,"tickWidth":2.5,"values":[-20,-10,10,20,30,40,60,70,80,90]}}}}
]},
{"title":{"text":"D","dx":-89,"offset":31,"dy":20},"width":265,"height":399,"data":{"name":"barD"},"layer":[
{"mark":{"type":"rule","strokeWidth":2.5},"encoding":{"x":{"field":"c","type":"nominal","sort":null,"scale":{"range":[0,265],"paddingInner":0.333,"paddingOuter":0.345},"axis":{"orient":"bottom","offset":-5,"title":null,"labels":false,"ticks":false,"domainWidth":3}},"y":{"field":"u","type":"quantitative","scale":{"domain":[0,60],"range":[394,0],"nice":false},"axis":{"orient":"left","title":"Aggregation (%)","titleFontSize":27,"titleAngle":270,"titleX":-72,"titleY":198,"titleBaseline":"middle","titleAlign":"center","values":[0,20,40,60],"labelFontSize":22,"labelPadding":6,"tickSize":16,"tickWidth":2.5,"domainWidth":3}},"y2":{"field":"v"},"color":{"field":"c","type":"nominal","scale":{"domain":["HeyA8-shControl","HeyA8-shPDPN"],"range":["#2a2a2a","#a8a8ab"]},"legend":null}}},
{"mark":{"type":"tick","orient":"horizontal","size":37,"thickness":2.5,"opacity":1},"encoding":{"x":{"field":"c","type":"nominal","sort":null},"y":{"field":"u","type":"quantitative"},"color":{"field":"c","type":"nominal","legend":null}}},
{"mark":{"type":"bar"},"encoding":{"x":{"field":"c","type":"nominal","sort":null},"y":{"field":"v","type":"quantitative"},"fill":{"field":"c","type":"nominal","scale":{"domain":["HeyA8-shControl","HeyA8-shPDPN"],"range":["#000000","#9e9ea3"]},"legend":null}}},
{"data":{"values":[{"c":"HeyA8-shControl","label":"p","y":59.5}]},"mark":{"type":"text","align":"left","baseline":"middle","dx":7,"fontSize":23.5,"fontWeight":"bold","fontStyle":"italic"},"encoding":{"x":{"field":"c","type":"nominal","sort":null},"y":{"field":"y","type":"quantitative"},"text":{"field":"label"}}},
{"data":{"values":[{"c":"HeyA8-shControl","label":"= 0.082","y":59.5}]},"mark":{"type":"text","align":"left","baseline":"middle","dx":25,"fontSize":23.5,"fontWeight":"bold"},"encoding":{"x":{"field":"c","type":"nominal","sort":null},"y":{"field":"y","type":"quantitative"},"text":{"field":"label"}}}
]},
{"title":{"text":"E","dx":-103,"offset":30,"dy":11},"width":442,"height":399,"layer":[
{"data":{"name":"memE"},"mark":{"type":"rect"},"encoding":{"x":{"field":"x1","type":"quantitative","scale":{"domain":[0,100],"range":[67,234],"nice":false},"axis":null},"x2":{"field":"x2"},"y":{"field":"y1","type":"quantitative","scale":{"domain":[0,100],"range":[216,369],"nice":false},"axis":null},"y2":{"field":"y2"},"color":{"field":"ink","type":"quantitative","scale":{"domain":[0,1],"range":["#ffffff","#000000"]},"legend":null}}},
{"data":{"name":"blotE"},"mark":{"type":"rect","cornerRadius":6},"encoding":{"x":{"field":"x1","type":"quantitative"},"x2":{"field":"x2"},"y":{"field":"y1","type":"quantitative"},"y2":{"field":"y2"},"color":{"field":"ink","type":"quantitative","legend":null}}},
{"data":{"name":"laneE"},"mark":{"type":"text","angle":270,"align":"left","baseline":"middle","fontSize":27.5},"encoding":{"x":{"field":"x","type":"quantitative"},"y":{"field":"y","type":"quantitative"},"text":{"field":"label"}}},
{"data":{"name":"rowE"},"mark":{"type":"text","align":"right","baseline":"middle","fontSize":30,"fontWeight":"bold"},"encoding":{"x":{"field":"x","type":"quantitative"},"y":{"field":"y","type":"quantitative"},"text":{"field":"label"}}},
{"data":{"name":"kdaE"},"mark":{"type":"text","align":"left","baseline":"alphabetic","fontSize":30,"fontWeight":"bold"},"encoding":{"x":{"field":"x","type":"quantitative"},"y":{"field":"y","type":"quantitative"},"text":{"field":"label"}}},
{"data":{"name":"markE"},"mark":{"type":"point","shape":"triangle-left","filled":true,"size":430,"color":"#000","opacity":1},"encoding":{"x":{"field":"tx","type":"quantitative"},"y":{"field":"y","type":"quantitative"}}},
{"data":{"name":"markE"},"mark":{"type":"text","align":"left","baseline":"middle","fontSize":23,"fontWeight":"bold"},"encoding":{"x":{"field":"x","type":"quantitative"},"y":{"field":"y","type":"quantitative"},"text":{"field":"label"}}}
]},
{"title":{"text":"F","dx":-88,"offset":30,"dy":15},"width":501,"height":399,"data":{"name":"histF"},
"resolve":{"axis":{"x":"independent","y":"independent"}},
"layer":[
{"mark":{"type":"area","interpolate":"monotone"},"encoding":{
"x":{"field":"d","type":"quantitative","scale":{"domain":[-0.48,5.03],"range":[0,394],"nice":false,"zero":false},"axis":{"orient":"bottom","title":"PDPN-PE","titleFontSize":27.5,"titleX":193,"titleY":48,"titleBaseline":"middle","titleAlign":"center","values":[0,1,2,3,4],"labelExpr":"datum.value==0?'10⁰':datum.value==1?'10¹':datum.value==2?'10²':datum.value==3?'10³':'10⁴'","labelFontSize":21,"labelOffset":11,"labelPadding":3,"tickSize":10,"tickWidth":2.5,"domain":false}},
"y":{"field":"n","type":"quantitative","scale":{"domain":[-0.8,100.8],"range":[399,1],"nice":false,"zero":false},"axis":{"orient":"left","title":"EVs Count","titleFontSize":27.5,"titleAngle":270,"titleX":-79,"titleY":208,"titleBaseline":"middle","titleAlign":"center","values":[0,20,40,60,80,100],"labelFontSize":22,"labelPadding":5,"tickSize":12,"tickWidth":2.5,"domain":false}},
"y2":{"datum":0},
"color":{"field":"s","type":"nominal","scale":{"domain":["Isotype-PE","HeyA8-shControl","HeyA8-shPDPN"],"range":["#ff0000","#000000","#9b9ba0"]},"legend":null},
"fillOpacity":{"field":"s","type":"nominal","scale":{"domain":["Isotype-PE","HeyA8-shControl","HeyA8-shPDPN"],"range":[0.33,0.45,0.55]},"legend":null}}},
{"mark":{"type":"line","interpolate":"monotone","strokeWidth":2.2},"encoding":{"x":{"field":"d","type":"quantitative","axis":null},"y":{"field":"n","type":"quantitative","axis":null},"color":{"field":"s","type":"nominal","legend":null}}},
{"data":{"name":"frameF"},"mark":{"type":"rect","fill":"transparent","stroke":"#333","strokeWidth":1.5},"encoding":{
"x":{"field":"x1","type":"quantitative","axis":{"orient":"bottom","title":null,"labels":false,"domain":false,"tickSize":5,"tickWidth":1.5,"values":[-0.398,-0.301,-0.222,-0.155,-0.097,-0.046,0.301,0.477,0.602,0.699,0.778,0.845,0.903,0.954,1.301,1.477,1.602,1.699,1.778,1.845,1.903,1.954,2.301,2.477,2.602,2.699,2.778,2.845,2.903,2.954,3.301,3.477,3.602,3.699,3.778,3.845,3.903,3.954,4.301,4.477,4.602,4.699,4.778,4.845,4.903,4.954]}},
"x2":{"field":"x2"},
"y":{"field":"y1","type":"quantitative","axis":{"orient":"left","title":null,"labels":false,"domain":false,"tickSize":5,"tickWidth":1.5,"values":[5,10,15,25,30,35,45,50,55,65,70,75,85,90,95]}},
"y2":{"field":"y2"}}}
]},
{"title":{"text":"G","dx":-78,"offset":30,"dy":7},"width":581,"height":399,"data":{"name":"traceG"},
"resolve":{"axis":{"x":"independent","y":"independent"}},
"layer":[
{"mark":{"type":"line","strokeWidth":2.3},"encoding":{
"x":{"field":"t","type":"quantitative","scale":{"domain":[0,20],"range":[0,481],"nice":false,"zero":false},"axis":{"orient":"bottom","offset":-3,"title":"Time (min)","titleFontSize":27,"titleX":234,"titleY":53,"titleBaseline":"middle","titleAlign":"center","values":[0,5,10,15,20],"labelExpr":"''+datum.value","labelFontSize":20,"labelPadding":4,"tickSize":11,"tickWidth":2.5,"domainWidth":3}},
"y":{"field":"a","type":"quantitative","scale":{"domain":[100,-20.3],"range":[396,5],"nice":false,"zero":false},"axis":{"orient":"left","title":"Aggregation (%)","titleFontSize":26,"titleAngle":270,"titleX":-61,"titleY":209,"titleBaseline":"middle","titleAlign":"center","values":[0,50,100],"labelExpr":"''+datum.value","labelFontSize":18,"labelPadding":3,"tickSize":14,"tickWidth":2.5,"domainWidth":3}},
"color":{"field":"s","type":"nominal","scale":{"domain":["g","k"],"range":["#a3a3a6","#000000"]},"legend":null},"detail":{"field":"s"}}},
{"data":{"values":[{"label":"EVs","t":17.4,"y":-14.2}]},"mark":{"type":"text","align":"left","baseline":"alphabetic","fontSize":26,"fontWeight":"bold"},"encoding":{"text":{"field":"label"},
"x":{"field":"t","type":"quantitative","axis":{"orient":"bottom","offset":-3,"title":null,"labels":false,"domain":false,"tickSize":8,"tickWidth":2.5,"values":[2.5,7.5,12.5,17.5]}},
"y":{"field":"y","type":"quantitative","axis":{"orient":"left","title":null,"labels":false,"domain":false,"tickSize":8,"tickWidth":2.5,"values":[-20,-10,10,20,30,40,60,70,80,90]}}}}
]},
{"title":{"text":"H","dx":-89,"offset":30,"dy":17},"width":265,"height":399,"data":{"name":"barH"},"layer":[
{"mark":{"type":"rule","strokeWidth":2.5},"encoding":{"x":{"field":"c","type":"nominal","sort":null,"scale":{"range":[0,265],"paddingInner":0.333,"paddingOuter":0.345},"axis":{"orient":"bottom","offset":-5,"title":null,"labels":false,"ticks":false,"domainWidth":3}},"y":{"field":"u","type":"quantitative","scale":{"domain":[0,80],"range":[394,0],"nice":false},"axis":{"orient":"left","title":"Aggregation (%)","titleFontSize":27,"titleAngle":270,"titleX":-72,"titleY":199,"titleBaseline":"middle","titleAlign":"center","values":[0,20,40,60,80],"labelFontSize":22,"labelPadding":6,"tickSize":16,"tickWidth":2.5,"domainWidth":3}},"y2":{"field":"v"},"color":{"field":"c","type":"nominal","scale":{"domain":["HeyA8-shControl","HeyA8-shPDPN"],"range":["#2a2a2a","#a8a8ab"]},"legend":null}}},
{"mark":{"type":"tick","orient":"horizontal","size":37,"thickness":2.5,"opacity":1},"encoding":{"x":{"field":"c","type":"nominal","sort":null},"y":{"field":"u","type":"quantitative"},"color":{"field":"c","type":"nominal","legend":null}}},
{"mark":{"type":"bar"},"encoding":{"x":{"field":"c","type":"nominal","sort":null},"y":{"field":"v","type":"quantitative"},"fill":{"field":"c","type":"nominal","scale":{"domain":["HeyA8-shControl","HeyA8-shPDPN"],"range":["#000000","#9e9ea3"]},"legend":null}}},
{"data":{"values":[{"c":"HeyA8-shControl","label":"p","y":79.6}]},"mark":{"type":"text","align":"left","baseline":"middle","dx":12,"fontSize":23.5,"fontWeight":"bold","fontStyle":"italic"},"encoding":{"x":{"field":"c","type":"nominal","sort":null},"y":{"field":"y","type":"quantitative"},"text":{"field":"label"}}},
{"data":{"values":[{"c":"HeyA8-shControl","label":"= 0.04","y":79.6}]},"mark":{"type":"text","align":"left","baseline":"middle","dx":30,"fontSize":23.5,"fontWeight":"bold"},"encoding":{"x":{"field":"c","type":"nominal","sort":null},"y":{"field":"y","type":"quantitative"},"text":{"field":"label"}}},
{"data":{"values":[{"c":"HeyA8-shControl","label":"*","y":73}]},"mark":{"type":"text","align":"center","baseline":"middle","dx":56,"fontSize":32,"fontWeight":"bold"},"encoding":{"x":{"field":"c","type":"nominal","sort":null},"y":{"field":"y","type":"quantitative"},"text":{"field":"label"}}}
]}
]}
